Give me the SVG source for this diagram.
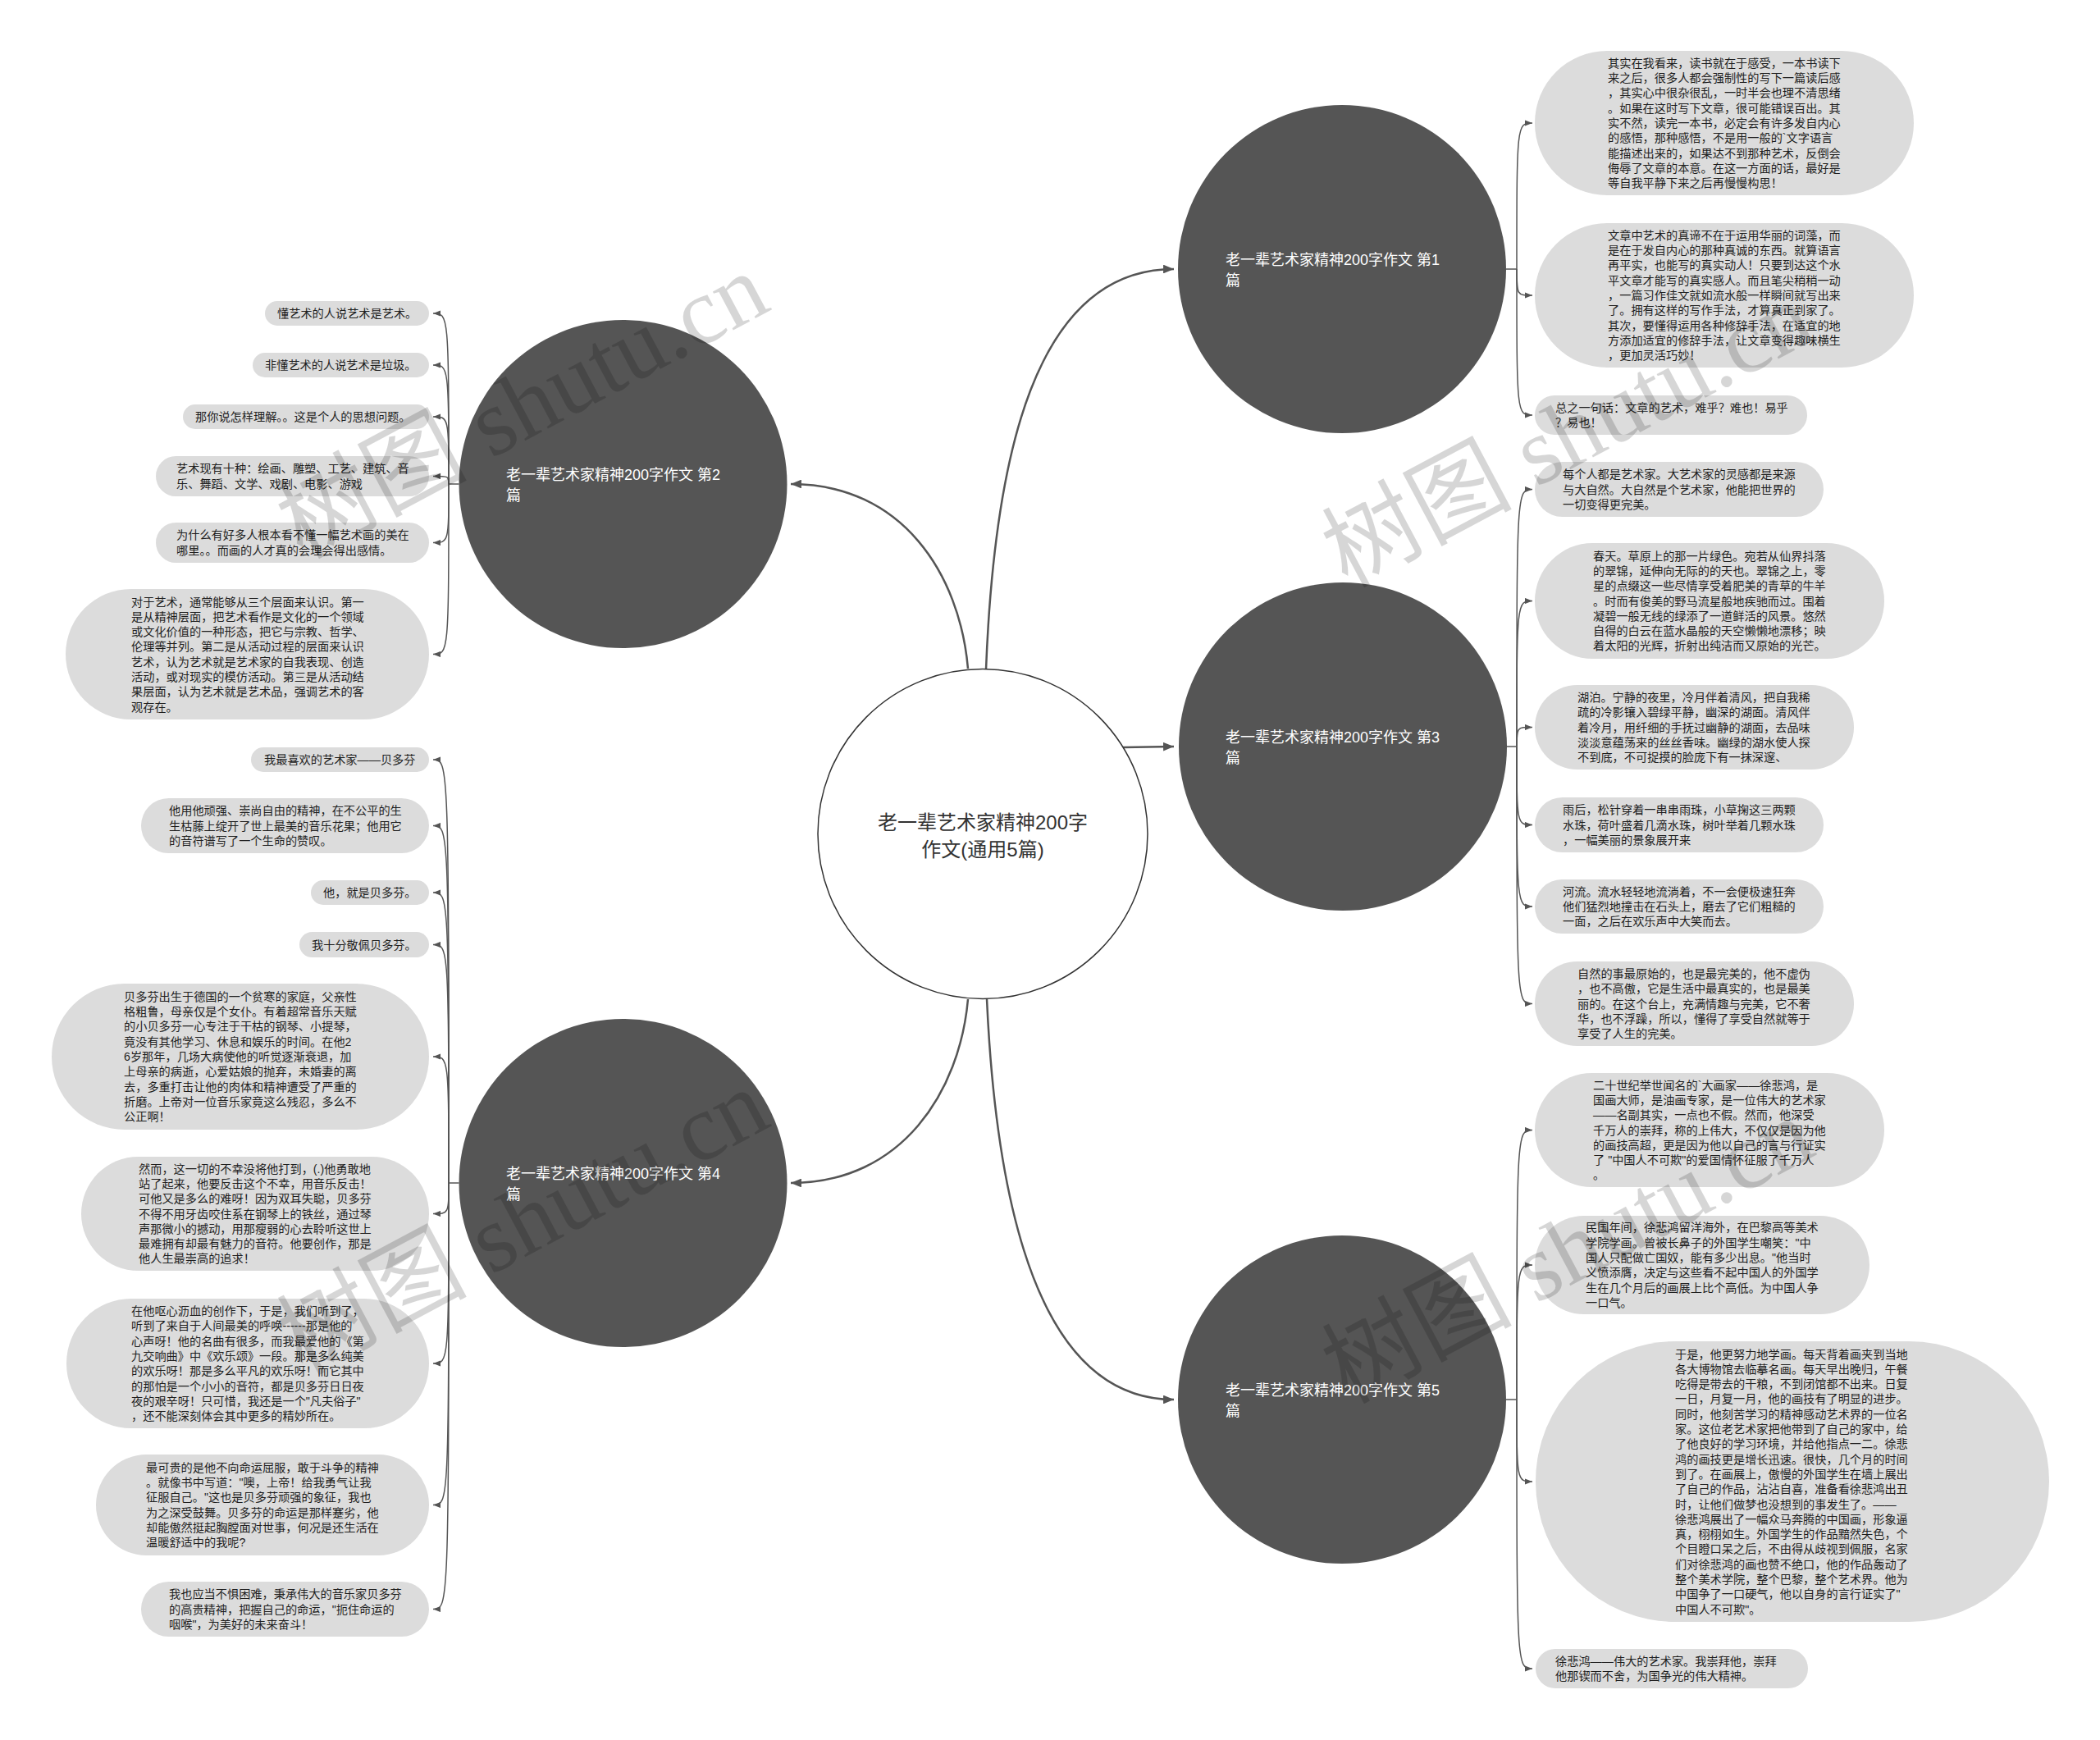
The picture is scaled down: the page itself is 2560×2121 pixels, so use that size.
<svg xmlns="http://www.w3.org/2000/svg" width="2560" height="2121" viewBox="0 0 2560 2121">
<style>
.pill{fill:#dcdcdc}
.node{fill:#555555}
.lt{font-family:"Liberation Sans","Noto Sans CJK SC",sans-serif;font-size:14.2px;fill:#1e1e1e}
.nt{font-family:"Liberation Sans","Noto Sans CJK SC",sans-serif;font-size:18px;fill:#ffffff}
.ct{font-family:"Liberation Sans","Noto Sans CJK SC",sans-serif;font-size:24px;fill:#333333}
.main{fill:none;stroke:#555555;stroke-width:2.5}
.leafc{fill:none;stroke:#555555;stroke-width:1.5}
.wm{font-family:"Liberation Serif","Noto Sans CJK SC",serif;font-size:116px;fill:#000000;fill-opacity:0.16}
</style>
<defs>
<marker id="arrL" viewBox="0 0 12 10" refX="12" refY="5" markerWidth="13" markerHeight="10.8" markerUnits="userSpaceOnUse" orient="auto"><path d="M0,0 L12,5 L0,10 z" fill="#555555"/></marker>
<marker id="arrS" viewBox="0 0 10 8" refX="10" refY="4" markerWidth="9" markerHeight="7.2" markerUnits="userSpaceOnUse" orient="auto"><path d="M0,0 L10,4 L0,8 z" fill="#555555"/></marker>
</defs>
<rect x="0" y="0" width="2560" height="2121" fill="#ffffff"/>

<g id="connectors">
<path class="main" d="M1202 816 C1212 560 1260 328 1431 328" marker-end="url(#arrL)"/>
<path class="main" d="M1180 815 C1170 700 1100 590 964 590" marker-end="url(#arrL)"/>
<path class="main" d="M1369 911 L1431 910" marker-end="url(#arrL)"/>
<path class="main" d="M1180 1218 C1170 1330 1100 1442 964 1442" marker-end="url(#arrL)"/>
<path class="main" d="M1203 1218 C1215 1480 1270 1706 1431 1706" marker-end="url(#arrL)"/>

<path class="leafc" d="M1836 328 L1849 328"/>
<path class="leafc" d="M1849 328 C1849 150 1849 150 1868 150" marker-end="url(#arrS)"/>
<path class="leafc" d="M1849 328 C1849 360 1849 360 1868 360" marker-end="url(#arrS)"/>
<path class="leafc" d="M1849 328 C1849 506 1849 506 1868 506" marker-end="url(#arrS)"/>

<path class="leafc" d="M1837 910 L1849 910"/>
<path class="leafc" d="M1849 910 C1849 596.5 1849 596.5 1868 596.5" marker-end="url(#arrS)"/>
<path class="leafc" d="M1849 910 C1849 732.5 1849 732.5 1868 732.5" marker-end="url(#arrS)"/>
<path class="leafc" d="M1849 910 C1849 886.5 1849 886.5 1868 886.5" marker-end="url(#arrS)"/>
<path class="leafc" d="M1849 910 C1849 1005.5 1849 1005.5 1868 1005.5" marker-end="url(#arrS)"/>
<path class="leafc" d="M1849 910 C1849 1105 1849 1105 1868 1105" marker-end="url(#arrS)"/>
<path class="leafc" d="M1849 910 C1849 1223.5 1849 1223.5 1868 1223.5" marker-end="url(#arrS)"/>

<path class="leafc" d="M1836 1706 L1849 1706"/>
<path class="leafc" d="M1849 1706 C1849 1377.5 1849 1377.5 1868 1377.5" marker-end="url(#arrS)"/>
<path class="leafc" d="M1849 1706 C1849 1542 1849 1542 1868 1542" marker-end="url(#arrS)"/>
<path class="leafc" d="M1849 1706 C1849 1806 1849 1806 1868 1806" marker-end="url(#arrS)"/>
<path class="leafc" d="M1849 1706 C1849 2034 1849 2034 1868 2034" marker-end="url(#arrS)"/>

<path class="leafc" d="M559.5 590 L547 590"/>
<path class="leafc" d="M547 590 C547 382 547 382 528 382" marker-end="url(#arrS)"/>
<path class="leafc" d="M547 590 C547 445 547 445 528 445" marker-end="url(#arrS)"/>
<path class="leafc" d="M547 590 C547 508 547 508 528 508" marker-end="url(#arrS)"/>
<path class="leafc" d="M547 590 C547 580.5 547 580.5 528 580.5" marker-end="url(#arrS)"/>
<path class="leafc" d="M547 590 C547 661.5 547 661.5 528 661.5" marker-end="url(#arrS)"/>
<path class="leafc" d="M547 590 C547 797.5 547 797.5 528 797.5" marker-end="url(#arrS)"/>

<path class="leafc" d="M559.5 1442 L547 1442"/>
<path class="leafc" d="M547 1442 C547 926 547 926 528 926" marker-end="url(#arrS)"/>
<path class="leafc" d="M547 1442 C547 1006.5 547 1006.5 528 1006.5" marker-end="url(#arrS)"/>
<path class="leafc" d="M547 1442 C547 1088 547 1088 528 1088" marker-end="url(#arrS)"/>
<path class="leafc" d="M547 1442 C547 1151.5 547 1151.5 528 1151.5" marker-end="url(#arrS)"/>
<path class="leafc" d="M547 1442 C547 1288 547 1288 528 1288" marker-end="url(#arrS)"/>
<path class="leafc" d="M547 1442 C547 1479.5 547 1479.5 528 1479.5" marker-end="url(#arrS)"/>
<path class="leafc" d="M547 1442 C547 1662 547 1662 528 1662" marker-end="url(#arrS)"/>
<path class="leafc" d="M547 1442 C547 1834.5 547 1834.5 528 1834.5" marker-end="url(#arrS)"/>
<path class="leafc" d="M547 1442 C547 1961.5 547 1961.5 528 1961.5" marker-end="url(#arrS)"/>
</g>

<g id="center">
<ellipse cx="1198" cy="1016.5" rx="201" ry="201" fill="#ffffff" stroke="#333333" stroke-width="1.5"/>
<text class="ct" text-anchor="middle"><tspan x="1198" y="1011">老一辈艺术家精神200字</tspan><tspan x="1198" y="1044">作文(通用5篇)</tspan></text>
</g>

<g id="node1">
<circle class="node" cx="1636" cy="328" r="200"/>
<text class="nt"><tspan x="1494" y="322.5">老一辈艺术家精神200字作文 第1</tspan><tspan x="1494" y="347.5">篇</tspan></text>
</g>
<g id="node2">
<circle class="node" cx="759.5" cy="590" r="200"/>
<text class="nt"><tspan x="617" y="584.5">老一辈艺术家精神200字作文 第2</tspan><tspan x="617" y="609.5">篇</tspan></text>
</g>
<g id="node3">
<circle class="node" cx="1637" cy="910" r="200"/>
<text class="nt"><tspan x="1494" y="904.5">老一辈艺术家精神200字作文 第3</tspan><tspan x="1494" y="929.5">篇</tspan></text>
</g>
<g id="node4">
<circle class="node" cx="759.5" cy="1442" r="200"/>
<text class="nt"><tspan x="617" y="1436.5">老一辈艺术家精神200字作文 第4</tspan><tspan x="617" y="1461.5">篇</tspan></text>
</g>
<g id="node5">
<circle class="node" cx="1636" cy="1706" r="200"/>
<text class="nt"><tspan x="1494" y="1700.5">老一辈艺术家精神200字作文 第5</tspan><tspan x="1494" y="1725.5">篇</tspan></text>
</g>

<g id="leaf1a">
<rect class="pill" x="1871" y="62" width="462" height="176" rx="88"/>
<text class="lt" x="1960" y="81.8"><tspan x="1960">其实在我看来，读书就在于感受，一本书读下</tspan><tspan x="1960" dy="18.3">来之后，很多人都会强制性的写下一篇读后感</tspan><tspan x="1960" dy="18.3">，其实心中很杂很乱，一时半会也理不清思绪</tspan><tspan x="1960" dy="18.3">。如果在这时写下文章，很可能错误百出。其</tspan><tspan x="1960" dy="18.3">实不然，读完一本书，必定会有许多发自内心</tspan><tspan x="1960" dy="18.3">的感悟，那种感悟，不是用一般的`文字语言</tspan><tspan x="1960" dy="18.3">能描述出来的，如果达不到那种艺术，反倒会</tspan><tspan x="1960" dy="18.3">侮辱了文章的本意。在这一方面的话，最好是</tspan><tspan x="1960" dy="18.3">等自我平静下来之后再慢慢构思！</tspan></text>
</g>
<g id="leaf1b">
<rect class="pill" x="1871" y="272" width="462" height="176" rx="88"/>
<text class="lt" x="1960" y="291.8"><tspan x="1960">文章中艺术的真谛不在于运用华丽的词藻，而</tspan><tspan x="1960" dy="18.3">是在于发自内心的那种真诚的东西。就算语言</tspan><tspan x="1960" dy="18.3">再平实，也能写的真实动人！只要到达这个水</tspan><tspan x="1960" dy="18.3">平文章才能写的真实感人。而且笔尖稍稍一动</tspan><tspan x="1960" dy="18.3">，一篇习作佳文就如流水般一样瞬间就写出来</tspan><tspan x="1960" dy="18.3">了。拥有这样的写作手法，才算真正到家了。</tspan><tspan x="1960" dy="18.3">其次，要懂得运用各种修辞手法，在适宜的地</tspan><tspan x="1960" dy="18.3">方添加适宜的修辞手法，让文章变得趣味横生</tspan><tspan x="1960" dy="18.3">，更加灵活巧妙！</tspan></text>
</g>
<g id="leaf1c">
<rect class="pill" x="1871" y="482" width="332" height="48" rx="24"/>
<text class="lt" x="1896" y="501.9"><tspan x="1896">总之一句话：文章的艺术，难乎？难也！易乎</tspan><tspan x="1896" dy="18.3">？易也！</tspan></text>
</g>

<g id="leaf3a">
<rect class="pill" x="1871" y="563" width="352" height="67" rx="33.5"/>
<text class="lt" x="1905" y="583.2"><tspan x="1905">每个人都是艺术家。大艺术家的灵感都是来源</tspan><tspan x="1905" dy="18.3">与大自然。大自然是个艺术家，他能把世界的</tspan><tspan x="1905" dy="18.3">一切变得更完美。</tspan></text>
</g>
<g id="leaf3b">
<rect class="pill" x="1871" y="662" width="426" height="141" rx="70.5"/>
<text class="lt" x="1942" y="682.6"><tspan x="1942">春天。草原上的那一片绿色。宛若从仙界抖落</tspan><tspan x="1942" dy="18.3">的翠锦，延伸向无际的的天也。翠锦之上，零</tspan><tspan x="1942" dy="18.3">星的点缀这一些尽情享受着肥美的青草的牛羊</tspan><tspan x="1942" dy="18.3">。时而有俊美的野马流星般地疾驰而过。围着</tspan><tspan x="1942" dy="18.3">凝碧一般无线的绿添了一道鲜活的风景。悠然</tspan><tspan x="1942" dy="18.3">自得的白云在蓝水晶般的天空懒懒地漂移；映</tspan><tspan x="1942" dy="18.3">着太阳的光辉，折射出纯洁而又原始的光芒。</tspan></text>
</g>
<g id="leaf3c">
<rect class="pill" x="1871" y="835" width="389" height="103" rx="51.5"/>
<text class="lt" x="1923" y="854.9"><tspan x="1923">湖泊。宁静的夜里，冷月伴着清风，把自我稀</tspan><tspan x="1923" dy="18.3">疏的冷影镶入碧绿平静，幽深的湖面。清风伴</tspan><tspan x="1923" dy="18.3">着冷月，用纤细的手抚过幽静的湖面，去品味</tspan><tspan x="1923" dy="18.3">淡淡意蕴荡来的丝丝香味。幽绿的湖水使人探</tspan><tspan x="1923" dy="18.3">不到底，不可捉摸的脸庞下有一抹深邃、</tspan></text>
</g>
<g id="leaf3d">
<rect class="pill" x="1871" y="972" width="352" height="67" rx="33.5"/>
<text class="lt" x="1905" y="992.2"><tspan x="1905">雨后，松针穿着一串串雨珠，小草掬这三两颗</tspan><tspan x="1905" dy="18.3">水珠，荷叶盛着几滴水珠，树叶举着几颗水珠</tspan><tspan x="1905" dy="18.3">，一幅美丽的景象展开来</tspan></text>
</g>
<g id="leaf3e">
<rect class="pill" x="1871" y="1072" width="352" height="66" rx="33"/>
<text class="lt" x="1905" y="1091.7"><tspan x="1905">河流。流水轻轻地流淌着，不一会便极速狂奔</tspan><tspan x="1905" dy="18.3">他们猛烈地撞击在石头上，磨去了它们粗糙的</tspan><tspan x="1905" dy="18.3">一面，之后在欢乐声中大笑而去。</tspan></text>
</g>
<g id="leaf3f">
<rect class="pill" x="1871" y="1172" width="389" height="103" rx="51.5"/>
<text class="lt" x="1923" y="1191.9"><tspan x="1923">自然的事最原始的，也是最完美的，他不虚伪</tspan><tspan x="1923" dy="18.3">，也不高傲，它是生活中最真实的，也是最美</tspan><tspan x="1923" dy="18.3">丽的。在这个台上，充满情趣与完美，它不奢</tspan><tspan x="1923" dy="18.3">华，也不浮躁，所以，懂得了享受自然就等于</tspan><tspan x="1923" dy="18.3">享受了人生的完美。</tspan></text>
</g>

<g id="leaf5a">
<rect class="pill" x="1871" y="1308" width="426" height="139" rx="69.5"/>
<text class="lt" x="1942" y="1327.6"><tspan x="1942">二十世纪举世闻名的`大画家——徐悲鸿，是</tspan><tspan x="1942" dy="18.3">国画大师，是油画专家，是一位伟大的艺术家</tspan><tspan x="1942" dy="18.3">——名副其实，一点也不假。然而，他深受</tspan><tspan x="1942" dy="18.3">千万人的崇拜，称的上伟大，不仅仅是因为他</tspan><tspan x="1942" dy="18.3">的画技高超，更是因为他以自己的言与行证实</tspan><tspan x="1942" dy="18.3">了 "中国人不可欺"的爱国情怀征服了千万人</tspan><tspan x="1942" dy="18.3">。</tspan></text>
</g>
<g id="leaf5b">
<rect class="pill" x="1871" y="1482" width="408" height="120" rx="60"/>
<text class="lt" x="1933" y="1501.3"><tspan x="1933">民国年间，徐悲鸿留洋海外，在巴黎高等美术</tspan><tspan x="1933" dy="18.3">学院学画。曾被长鼻子的外国学生嘲笑："中</tspan><tspan x="1933" dy="18.3">国人只配做亡国奴，能有多少出息。"他当时</tspan><tspan x="1933" dy="18.3">义愤添膺，决定与这些看不起中国人的外国学</tspan><tspan x="1933" dy="18.3">生在几个月后的画展上比个高低。为中国人争</tspan><tspan x="1933" dy="18.3">一口气。</tspan></text>
</g>
<g id="leaf5c">
<rect class="pill" x="1872" y="1635" width="626" height="342" rx="171"/>
<text class="lt" x="2042" y="1655.5"><tspan x="2042">于是，他更努力地学画。每天背着画夹到当地</tspan><tspan x="2042" dy="18.3">各大博物馆去临摹名画。每天早出晚归，午餐</tspan><tspan x="2042" dy="18.3">吃得是带去的干粮，不到闭馆都不出来。日复</tspan><tspan x="2042" dy="18.3">一日，月复一月，他的画技有了明显的进步。</tspan><tspan x="2042" dy="18.3">同时，他刻苦学习的精神感动艺术界的一位名</tspan><tspan x="2042" dy="18.3">家。这位老艺术家把他带到了自己的家中，给</tspan><tspan x="2042" dy="18.3">了他良好的学习环境，并给他指点一二。徐悲</tspan><tspan x="2042" dy="18.3">鸿的画技更是增长迅速。很快，几个月的时间</tspan><tspan x="2042" dy="18.3">到了。在画展上，傲慢的外国学生在墙上展出</tspan><tspan x="2042" dy="18.3">了自己的作品，沾沾自喜，准备看徐悲鸿出丑</tspan><tspan x="2042" dy="18.3">时，让他们做梦也没想到的事发生了。——</tspan><tspan x="2042" dy="18.3">徐悲鸿展出了一幅众马奔腾的中国画，形象逼</tspan><tspan x="2042" dy="18.3">真，栩栩如生。外国学生的作品黯然失色，个</tspan><tspan x="2042" dy="18.3">个目瞪口呆之后，不由得从歧视到佩服，名家</tspan><tspan x="2042" dy="18.3">们对徐悲鸿的画也赞不绝口，他的作品轰动了</tspan><tspan x="2042" dy="18.3">整个美术学院，整个巴黎，整个艺术界。他为</tspan><tspan x="2042" dy="18.3">中国争了一口硬气，他以自身的言行证实了"</tspan><tspan x="2042" dy="18.3">中国人不可欺"。</tspan></text>
</g>
<g id="leaf5d">
<rect class="pill" x="1872" y="2010" width="332" height="48" rx="24"/>
<text class="lt" x="1896" y="2029.9"><tspan x="1896">徐悲鸿——伟大的艺术家。我崇拜他，崇拜</tspan><tspan x="1896" dy="18.3">他那锲而不舍，为国争光的伟大精神。</tspan></text>
</g>

<g id="leaf2a">
<rect class="pill" x="323" y="367" width="200" height="30" rx="15"/>
<text class="lt" x="338" y="387">懂艺术的人说艺术是艺术。</text>
</g>
<g id="leaf2b">
<rect class="pill" x="308" y="430" width="215" height="30" rx="15"/>
<text class="lt" x="323" y="450">非懂艺术的人说艺术是垃圾。</text>
</g>
<g id="leaf2c">
<rect class="pill" x="223" y="493" width="300" height="30" rx="15"/>
<text class="lt" x="238" y="513">那你说怎样理解。。这是个人的思想问题。</text>
</g>
<g id="leaf2d">
<rect class="pill" x="190" y="556" width="333" height="49" rx="24.5"/>
<text class="lt" x="215" y="576.4"><tspan x="215">艺术现有十种：绘画、雕塑、工艺、建筑、音</tspan><tspan x="215" dy="18.3">乐、舞蹈、文学、戏剧、电影、游戏</tspan></text>
</g>
<g id="leaf2e">
<rect class="pill" x="190" y="637" width="333" height="49" rx="24.5"/>
<text class="lt" x="215" y="657.4"><tspan x="215">为什么有好多人根本看不懂一幅艺术画的美在</tspan><tspan x="215" dy="18.3">哪里。。而画的人才真的会理会得出感情。</tspan></text>
</g>
<g id="leaf2f">
<rect class="pill" x="80" y="718" width="443" height="159" rx="79.5"/>
<text class="lt" x="160" y="738.5"><tspan x="160">对于艺术，通常能够从三个层面来认识。第一</tspan><tspan x="160" dy="18.3">是从精神层面，把艺术看作是文化的一个领域</tspan><tspan x="160" dy="18.3">或文化价值的一种形态，把它与宗教、哲学、</tspan><tspan x="160" dy="18.3">伦理等并列。第二是从活动过程的层面来认识</tspan><tspan x="160" dy="18.3">艺术，认为艺术就是艺术家的自我表现、创造</tspan><tspan x="160" dy="18.3">活动，或对现实的模仿活动。第三是从活动结</tspan><tspan x="160" dy="18.3">果层面，认为艺术就是艺术品，强调艺术的客</tspan><tspan x="160" dy="18.3">观存在。</tspan></text>
</g>

<g id="leaf4a">
<rect class="pill" x="306" y="911" width="217" height="30" rx="15"/>
<text class="lt" x="322" y="931">我最喜欢的艺术家——贝多芬</text>
</g>
<g id="leaf4b">
<rect class="pill" x="172" y="973" width="351" height="67" rx="33.5"/>
<text class="lt" x="206" y="993.2"><tspan x="206">他用他顽强、崇尚自由的精神，在不公平的生</tspan><tspan x="206" dy="18.3">生枯藤上绽开了世上最美的音乐花果；他用它</tspan><tspan x="206" dy="18.3">的音符谱写了一个生命的赞叹。</tspan></text>
</g>
<g id="leaf4c">
<rect class="pill" x="379" y="1073" width="144" height="30" rx="15"/>
<text class="lt" x="394" y="1093">他，就是贝多芬。</text>
</g>
<g id="leaf4d">
<rect class="pill" x="365" y="1136" width="158" height="31" rx="15.5"/>
<text class="lt" x="380" y="1156.5">我十分敬佩贝多芬。</text>
</g>
<g id="leaf4e">
<rect class="pill" x="63" y="1199" width="460" height="178" rx="89"/>
<text class="lt" x="151" y="1219.8"><tspan x="151">贝多芬出生于德国的一个贫寒的家庭，父亲性</tspan><tspan x="151" dy="18.3">格粗鲁，母亲仅是个女仆。有着超常音乐天赋</tspan><tspan x="151" dy="18.3">的小贝多芬一心专注于干枯的钢琴、小提琴，</tspan><tspan x="151" dy="18.3">竟没有其他学习、休息和娱乐的时间。在他2</tspan><tspan x="151" dy="18.3">6岁那年，几场大病使他的听觉逐渐衰退，加</tspan><tspan x="151" dy="18.3">上母亲的病逝，心爱姑娘的抛弃，未婚妻的离</tspan><tspan x="151" dy="18.3">去，多重打击让他的肉体和精神遭受了严重的</tspan><tspan x="151" dy="18.3">折磨。上帝对一位音乐家竟这么残忍，多么不</tspan><tspan x="151" dy="18.3">公正啊！</tspan></text>
</g>
<g id="leaf4f">
<rect class="pill" x="99" y="1410" width="424" height="139" rx="69.5"/>
<text class="lt" x="169" y="1429.6"><tspan x="169">然而，这一切的不幸没将他打到，(.)他勇敢地</tspan><tspan x="169" dy="18.3">站了起来，他要反击这个不幸，用音乐反击！</tspan><tspan x="169" dy="18.3">可他又是多么的难呀！因为双耳失聪，贝多芬</tspan><tspan x="169" dy="18.3">不得不用牙齿咬住系在钢琴上的铁丝，通过琴</tspan><tspan x="169" dy="18.3">声那微小的撼动，用那瘦弱的心去聆听这世上</tspan><tspan x="169" dy="18.3">最难拥有却最有魅力的音符。他要创作，那是</tspan><tspan x="169" dy="18.3">他人生最崇高的追求！</tspan></text>
</g>
<g id="leaf4g">
<rect class="pill" x="81" y="1583" width="442" height="158" rx="79"/>
<text class="lt" x="160" y="1603"><tspan x="160">在他呕心沥血的创作下，于是，我们听到了，</tspan><tspan x="160" dy="18.3">听到了来自于人间最美的呼唤------那是他的</tspan><tspan x="160" dy="18.3">心声呀！他的名曲有很多，而我最爱他的《第</tspan><tspan x="160" dy="18.3">九交响曲》中《欢乐颂》一段。那是多么纯美</tspan><tspan x="160" dy="18.3">的欢乐呀！那是多么平凡的欢乐呀！而它其中</tspan><tspan x="160" dy="18.3">的那怕是一个小小的音符，都是贝多芬日日夜</tspan><tspan x="160" dy="18.3">夜的艰辛呀！只可惜，我还是一个"凡夫俗子"</tspan><tspan x="160" dy="18.3">，还不能深刻体会其中更多的精妙所在。</tspan></text>
</g>
<g id="leaf4h">
<rect class="pill" x="117" y="1773" width="406" height="123" rx="61.5"/>
<text class="lt" x="178" y="1793.8"><tspan x="178">最可贵的是他不向命运屈服，敢于斗争的精神</tspan><tspan x="178" dy="18.3">。就像书中写道："噢，上帝！给我勇气让我</tspan><tspan x="178" dy="18.3">征服自己。"这也是贝多芬顽强的象征，我也</tspan><tspan x="178" dy="18.3">为之深受鼓舞。贝多芬的命运是那样蹇劣，他</tspan><tspan x="178" dy="18.3">却能傲然挺起胸膛面对世事，何况是还生活在</tspan><tspan x="178" dy="18.3">温暖舒适中的我呢?</tspan></text>
</g>
<g id="leaf4i">
<rect class="pill" x="172" y="1928" width="351" height="67" rx="33.5"/>
<text class="lt" x="206" y="1948.2"><tspan x="206">我也应当不惧困难，秉承伟大的音乐家贝多芬</tspan><tspan x="206" dy="18.3">的高贵精神，把握自己的命运，"扼住命运的</tspan><tspan x="206" dy="18.3">咽喉"，为美好的未来奋斗！</tspan></text>
</g>

<g id="watermarks">
<text class="wm" x="368" y="682" transform="rotate(-28 368 682)">树图 shutu.cn</text>
<text class="wm" x="1642" y="717" transform="rotate(-28 1642 717)">树图 shutu.cn</text>
<text class="wm" x="368" y="1677" transform="rotate(-28 368 1677)">树图 shutu.cn</text>
<text class="wm" x="1642" y="1712" transform="rotate(-28 1642 1712)">树图 shutu.cn</text>
</g>
</svg>
